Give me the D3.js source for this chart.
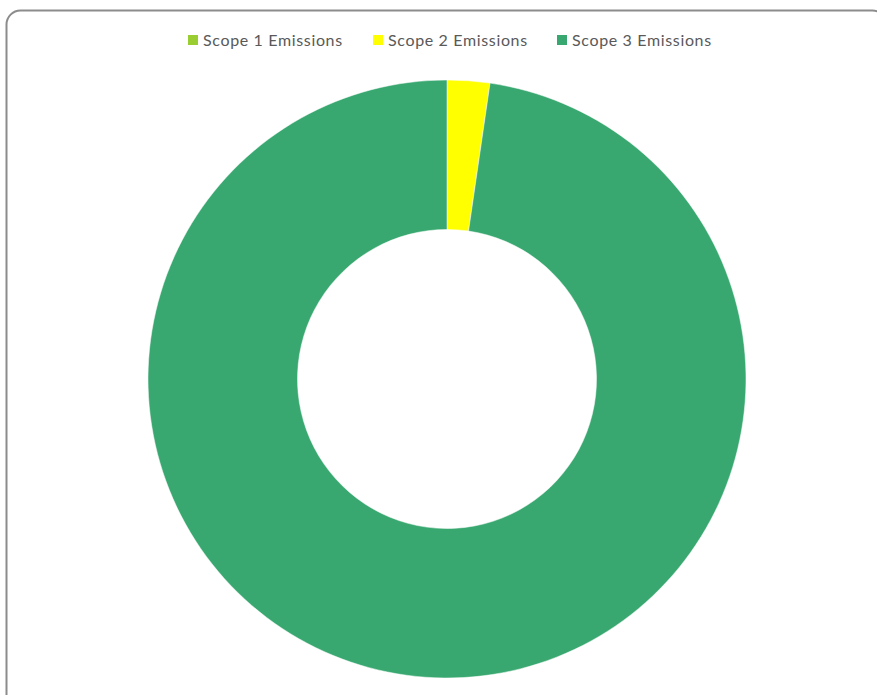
<!DOCTYPE html>
<html>
<head>
<meta charset="utf-8">
<script src="https://cdn.jsdelivr.net/npm/d3@7"></script>
<style>
  html, body { margin: 0; padding: 0; background: #fff; }
  svg { display: block; }
</style>
</head>
<body>
<script>
// Data
const categories = ["Scope 1 Emissions", "Scope 2 Emissions", "Scope 3 Emissions"];
const values = [0, 2.3, 97.7];
const colors = ["#9ACD32", "#FFFF00", "#39A870"];

// Dimensions
const width = 877;
const height = 695;
const cx = 447;
const cy = 379;
const outerR = 299;
const innerR = 149.5;

const svg = d3.select("body")
  .append("svg")
  .attr("width", width)
  .attr("height", height);

// chart border
svg.append("rect")
  .attr("x", 6.5)
  .attr("y", 10.5)
  .attr("width", 880)
  .attr("height", 700)
  .attr("rx", 14)
  .attr("fill", "#fff")
  .attr("stroke", "#8c8c8c")
  .attr("stroke-width", 2);

const pie = d3.pie().sort(null).value(d => d.value);
const arc = d3.arc().innerRadius(innerR).outerRadius(outerR);

const data = categories.map((c, i) => ({ name: c, value: values[i] }));
const color = d3.scaleOrdinal().domain(categories).range(colors);

svg.append("g")
  .attr("transform", `translate(${cx},${cy})`)
  .selectAll("path")
  .data(pie(data))
  .enter()
  .append("path")
  .attr("d", arc)
  .attr("fill", d => color(d.data.name))
  .attr("stroke", "#fff")
  .attr("stroke-width", d => d.data.value > 0 ? 0.5 : 0);

// Legend
const legendX = [188, 373, 557];
const legend = svg.append("g");
const item = legend.selectAll("g")
  .data(categories)
  .enter()
  .append("g")
  .attr("transform", (d, i) => `translate(${legendX[i]},40)`);

item.append("rect")
  .attr("x", 0)
  .attr("y", -5)
  .attr("width", 10)
  .attr("height", 10)
  .attr("fill", d => color(d));

item.append("text")
  .attr("x", 15)
  .attr("y", 0)
  .attr("dy", "0.35em")
  .attr("font-family", "Lato, 'Open Sans', sans-serif")
  .attr("font-size", 16)
  .attr("letter-spacing", 0.65)
  .attr("fill", "#595959")
  .text(d => d);
</script>
</body>
</html>
